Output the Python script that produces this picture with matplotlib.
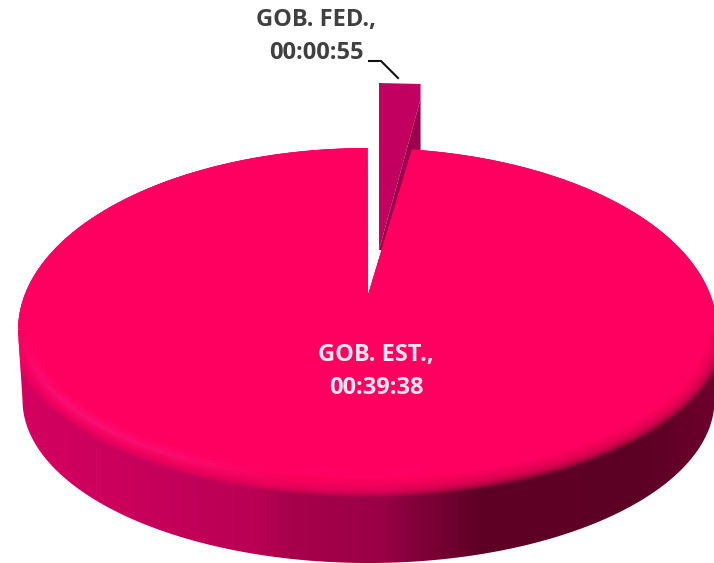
import numpy as np
import matplotlib
matplotlib.use('Agg')
import matplotlib.pyplot as plt
from matplotlib.collections import LineCollection
from matplotlib.colors import LinearSegmentedColormap, to_rgb
from matplotlib.patches import Polygon

# durations in seconds
labels = ['GOB. FED.,', 'GOB. EST.,']
times = ['00:00:55', '00:39:38']
seconds = [55, 2378]

TOP = '#ff0060'
W, H = 714, 563
cx, cy, rx = 367.5, 330, 349.5
ry_back, ry_front = 182, 158      # back of the disc looks bigger than the front
apex = (368, 295)
bx, by, brx, bry = 368.5, 400, 346, 163   # lower edge of the wall

fig = plt.figure(figsize=(W / 100, H / 100), dpi=100)
ax = fig.add_axes([0, 0, 1, 1])
ax.set_xlim(0, W)
ax.set_ylim(H, 0)
ax.axis('off')

# share of first slice, clockwise from 12 o'clock (0.9 = foreshortening at the back)
sweep = 2 * np.pi * seconds[0] / sum(seconds)
start = sweep * 0.9


def rim(t, grow=0):
    c = np.cos(t)
    ry = np.where(c > 0, ry_back, ry_front + grow)
    r = rx + np.where(c > 0, 0, grow)
    return np.column_stack([cx + r * np.sin(t), cy - ry * c])


# exploded slice, seen only from its walls
fed_w = rx * 0.84 * np.sin(sweep)
fed_x, fed_top, fed_tip = 379, 83, 250
ax.add_patch(Polygon([(fed_x, fed_tip), (fed_x, fed_top), (fed_x + fed_w, fed_top + 1),
                      (fed_x + fed_w, fed_top + 16)], fc='#c2005f', ec='none', zorder=1))
ax.add_patch(Polygon([(fed_x, fed_tip), (fed_x + fed_w, fed_top + 16),
                      (fed_x + fed_w, fed_top + 80), (fed_x + 15, fed_tip)],
                     fc='#9c004c', ec='none', zorder=1))

# outer wall with the left-to-right shading
t = np.linspace(np.pi / 2, 3 * np.pi / 2, 200)
low = np.column_stack([bx + brx * np.sin(t), by - bry * np.cos(t)])
wall = np.vstack([rim(t[:1]), low, rim(t[-1:])])
tb = np.linspace(-np.pi / 2, np.pi / 2, 200)
silhouette = Polygon(np.vstack([rim(tb), low]), transform=ax.transData)

stops_x = [18, 100, 200, 260, 290, 380, 430, 480, 640, 714]
stops_c = ['#d40060', '#cc005d', '#c00058', '#b80053', '#a8004c', '#9a0046', '#7a0035',
           '#5f0025', '#5c0024', '#6c002c']
cmap = LinearSegmentedColormap.from_list('wall', [((x - 18) / 696, c) for x, c in zip(stops_x, stops_c)])
grad = np.linspace(0, 1, 512).reshape(1, -1)
im = ax.imshow(grad, cmap=cmap, extent=[18, 714, H, 0], aspect='auto', zorder=2)
im.set_clip_path(Polygon(wall, transform=ax.transData))
ax.set_xlim(0, W)
ax.set_ylim(H, 0)

# main slice, soft bevel built from growing copies of the face
t = np.linspace(start, 2 * np.pi, 600)
for g in range(9, -9, -1):
    p = ax.add_patch(Polygon(np.vstack([[apex], rim(t, g)]), fc=TOP, ec='none', alpha=0.16, zorder=3))
    p.set_clip_path(silhouette)
ax.add_patch(Polygon(np.vstack([[apex], rim(t, -9)]), fc=TOP, ec='none', zorder=4))

# lighter glint along the front left of the bevel, fading at both ends
t = np.linspace(np.radians(192), np.radians(272), 120)
for width, a in [(12, 0.08), (7, 0.12), (3, 0.16)]:
    pts = rim(t, -6)
    segs = np.stack([pts[:-1], pts[1:]], axis=1)
    fade = np.sin(np.linspace(0, np.pi, len(segs))) ** 0.8
    cols = np.column_stack([np.tile(to_rgb('#ff30a0'), (len(segs), 1)), a * fade])
    lc = LineCollection(segs, colors=cols, linewidths=width, capstyle='butt', zorder=5)
    ax.add_collection(lc)

# labels
ax.plot([369, 381, 398], [61, 61, 78], color='#111111', lw=1.5, zorder=6)
for (x, y), s, col in [((316, 20), labels[0], '#404040'), ((316, 53), times[0], '#404040'),
                       ((376, 355), labels[1], '#fbe6ef'), ((376, 388), times[1], '#fbe6ef')]:
    ax.text(x, y, s, ha='center', va='center', fontsize=17, family='Open Sans',
            fontweight='bold', color=col, zorder=6)

fig.savefig('out.png', dpi=100)
